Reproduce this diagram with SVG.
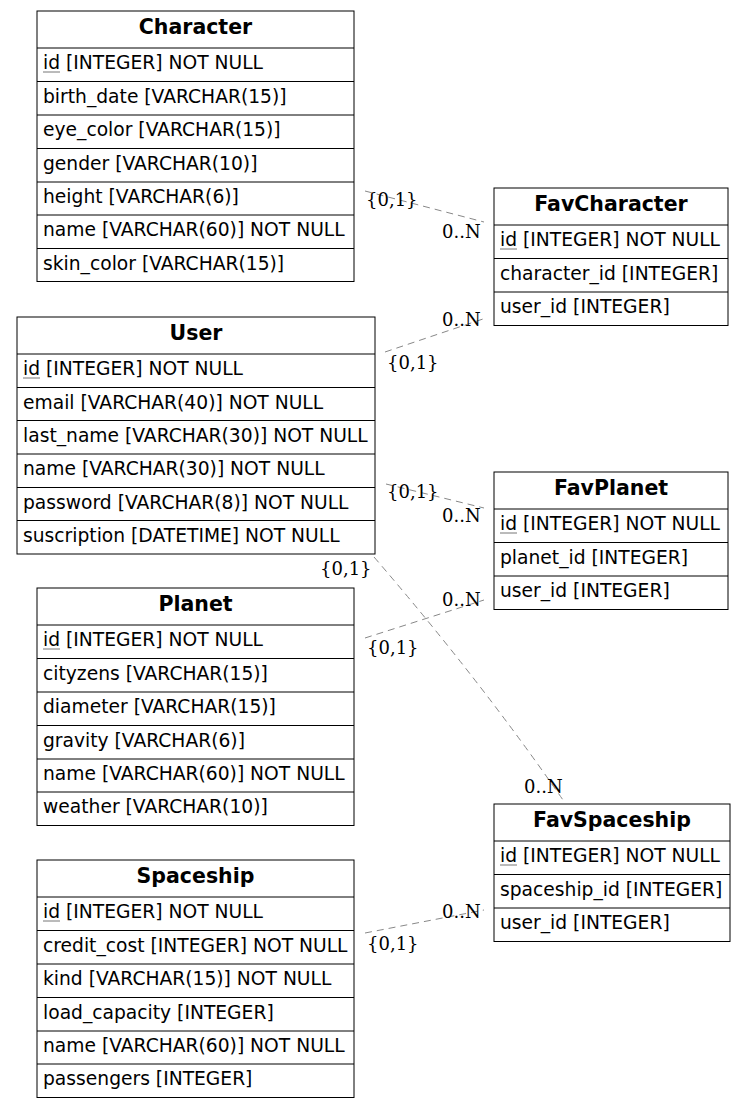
<svg xmlns="http://www.w3.org/2000/svg" width="745" height="1109" viewBox="0 0 745 1109">
<style>
.bg{fill:#fff}
.box{fill:#fff;stroke:#000;stroke-width:1}
.ln{stroke:#000;stroke-width:1}
.h{font-family:"DejaVu Sans",sans-serif;font-weight:bold;font-size:20.5px;text-anchor:middle;fill:#000}
.t{font-family:"DejaVu Sans",sans-serif;font-size:18.7px;fill:#000}
.u{stroke:#777;stroke-width:1}
.c{fill:none;stroke:#888;stroke-width:1;stroke-dasharray:7,5}
.l{font-family:"DejaVu Serif",serif;font-size:18px;fill:#000}
</style>
<rect class="bg" width="745" height="1109"/>
<g id="connectors">
<path class="c" d="M365,191 L484,222"/>
<path class="c" d="M385,352 L486,318"/>
<path class="c" d="M386,484 L484,508"/>
<path class="c" d="M365,638 L484,600"/>
<path class="c" d="M374,557 Q480,680 563,800"/>
<path class="c" d="M365,933 L484,910"/>
<text class="l" x="366" y="206">{0,1}</text>
<text class="l" x="442" y="238">0..N</text>
<text class="l" x="442" y="326">0..N</text>
<text class="l" x="387" y="369">{0,1}</text>
<text class="l" x="387" y="498">{0,1}</text>
<text class="l" x="442" y="522">0..N</text>
<text class="l" x="442" y="606">0..N</text>
<text class="l" x="367" y="654">{0,1}</text>
<text class="l" x="320" y="575">{0,1}</text>
<text class="l" x="524" y="793">0..N</text>
<text class="l" x="442" y="918">0..N</text>
<text class="l" x="367" y="950">{0,1}</text>
</g>
<g id="Character">
<rect class="box" x="37" y="11" width="317" height="270.5"/>
<text class="h" x="195.5" y="34">Character</text>
<line class="ln" x1="37" y1="48" x2="354" y2="48"/>
<line class="ln" x1="37" y1="81.5" x2="354" y2="81.5"/>
<line class="ln" x1="37" y1="115" x2="354" y2="115"/>
<line class="ln" x1="37" y1="148.5" x2="354" y2="148.5"/>
<line class="ln" x1="37" y1="182" x2="354" y2="182"/>
<line class="ln" x1="37" y1="215" x2="354" y2="215"/>
<line class="ln" x1="37" y1="248.5" x2="354" y2="248.5"/>
<text class="t" x="43" y="69">id [INTEGER] NOT NULL</text>
<line class="u" x1="43" y1="72" x2="60" y2="72"/>
<text class="t" x="43" y="102.5">birth_date [VARCHAR(15)]</text>
<text class="t" x="43" y="136">eye_color [VARCHAR(15)]</text>
<text class="t" x="43" y="169.5">gender [VARCHAR(10)]</text>
<text class="t" x="43" y="202.5">height [VARCHAR(6)]</text>
<text class="t" x="43" y="236">name [VARCHAR(60)] NOT NULL</text>
<text class="t" x="43" y="269.5">skin_color [VARCHAR(15)]</text>
</g>
<g id="FavCharacter">
<rect class="box" x="494" y="188" width="234" height="137.5"/>
<text class="h" x="611" y="211">FavCharacter</text>
<line class="ln" x1="494" y1="225" x2="728" y2="225"/>
<line class="ln" x1="494" y1="258.5" x2="728" y2="258.5"/>
<line class="ln" x1="494" y1="292" x2="728" y2="292"/>
<text class="t" x="500" y="246">id [INTEGER] NOT NULL</text>
<line class="u" x1="500" y1="249" x2="517" y2="249"/>
<text class="t" x="500" y="279.5">character_id [INTEGER]</text>
<text class="t" x="500" y="313">user_id [INTEGER]</text>
</g>
<g id="User">
<rect class="box" x="17" y="317" width="358" height="237"/>
<text class="h" x="196" y="340">User</text>
<line class="ln" x1="17" y1="354" x2="375" y2="354"/>
<line class="ln" x1="17" y1="387.5" x2="375" y2="387.5"/>
<line class="ln" x1="17" y1="420.5" x2="375" y2="420.5"/>
<line class="ln" x1="17" y1="454" x2="375" y2="454"/>
<line class="ln" x1="17" y1="487.5" x2="375" y2="487.5"/>
<line class="ln" x1="17" y1="520.5" x2="375" y2="520.5"/>
<text class="t" x="23" y="375">id [INTEGER] NOT NULL</text>
<line class="u" x1="23" y1="378" x2="40" y2="378"/>
<text class="t" x="23" y="408.5">email [VARCHAR(40)] NOT NULL</text>
<text class="t" x="23" y="441.5">last_name [VARCHAR(30)] NOT NULL</text>
<text class="t" x="23" y="475">name [VARCHAR(30)] NOT NULL</text>
<text class="t" x="23" y="508.5">password [VARCHAR(8)] NOT NULL</text>
<text class="t" x="23" y="541.5">suscription [DATETIME] NOT NULL</text>
</g>
<g id="FavPlanet">
<rect class="box" x="494" y="472" width="234" height="137.5"/>
<text class="h" x="611" y="495">FavPlanet</text>
<line class="ln" x1="494" y1="509" x2="728" y2="509"/>
<line class="ln" x1="494" y1="542.5" x2="728" y2="542.5"/>
<line class="ln" x1="494" y1="576" x2="728" y2="576"/>
<text class="t" x="500" y="530">id [INTEGER] NOT NULL</text>
<line class="u" x1="500" y1="533" x2="517" y2="533"/>
<text class="t" x="500" y="563.5">planet_id [INTEGER]</text>
<text class="t" x="500" y="597">user_id [INTEGER]</text>
</g>
<g id="Planet">
<rect class="box" x="37" y="588" width="317" height="237.5"/>
<text class="h" x="195.5" y="611">Planet</text>
<line class="ln" x1="37" y1="625" x2="354" y2="625"/>
<line class="ln" x1="37" y1="658.5" x2="354" y2="658.5"/>
<line class="ln" x1="37" y1="692" x2="354" y2="692"/>
<line class="ln" x1="37" y1="725.5" x2="354" y2="725.5"/>
<line class="ln" x1="37" y1="759" x2="354" y2="759"/>
<line class="ln" x1="37" y1="792" x2="354" y2="792"/>
<text class="t" x="43" y="646">id [INTEGER] NOT NULL</text>
<line class="u" x1="43" y1="649" x2="60" y2="649"/>
<text class="t" x="43" y="679.5">cityzens [VARCHAR(15)]</text>
<text class="t" x="43" y="713">diameter [VARCHAR(15)]</text>
<text class="t" x="43" y="746.5">gravity [VARCHAR(6)]</text>
<text class="t" x="43" y="780">name [VARCHAR(60)] NOT NULL</text>
<text class="t" x="43" y="813">weather [VARCHAR(10)]</text>
</g>
<g id="FavSpaceship">
<rect class="box" x="494" y="804" width="236" height="137.5"/>
<text class="h" x="612" y="827">FavSpaceship</text>
<line class="ln" x1="494" y1="841" x2="730" y2="841"/>
<line class="ln" x1="494" y1="874.5" x2="730" y2="874.5"/>
<line class="ln" x1="494" y1="908" x2="730" y2="908"/>
<text class="t" x="500" y="862">id [INTEGER] NOT NULL</text>
<line class="u" x1="500" y1="865" x2="517" y2="865"/>
<text class="t" x="500" y="895.5">spaceship_id [INTEGER]</text>
<text class="t" x="500" y="929">user_id [INTEGER]</text>
</g>
<g id="Spaceship">
<rect class="box" x="37" y="860" width="317" height="237.5"/>
<text class="h" x="195.5" y="883">Spaceship</text>
<line class="ln" x1="37" y1="897" x2="354" y2="897"/>
<line class="ln" x1="37" y1="930.5" x2="354" y2="930.5"/>
<line class="ln" x1="37" y1="964" x2="354" y2="964"/>
<line class="ln" x1="37" y1="997.5" x2="354" y2="997.5"/>
<line class="ln" x1="37" y1="1031" x2="354" y2="1031"/>
<line class="ln" x1="37" y1="1064" x2="354" y2="1064"/>
<text class="t" x="43" y="918">id [INTEGER] NOT NULL</text>
<line class="u" x1="43" y1="921" x2="60" y2="921"/>
<text class="t" x="43" y="951.5">credit_cost [INTEGER] NOT NULL</text>
<text class="t" x="43" y="985">kind [VARCHAR(15)] NOT NULL</text>
<text class="t" x="43" y="1018.5">load_capacity [INTEGER]</text>
<text class="t" x="43" y="1052">name [VARCHAR(60)] NOT NULL</text>
<text class="t" x="43" y="1085">passengers [INTEGER]</text>
</g>
</svg>
